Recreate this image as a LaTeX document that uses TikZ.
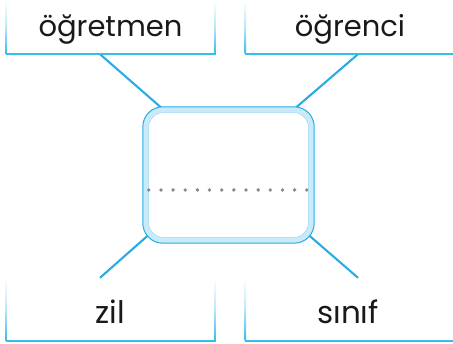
\documentclass[tikz,border=0pt]{standalone}
\usepackage{fontspec}
\setmainfont{Poppins}
\definecolor{lineblue}{HTML}{2AACE2}
\definecolor{edgeblue}{HTML}{35BDEB}
\definecolor{bandblue}{HTML}{C9EAF9}
\definecolor{dotgray}{HTML}{8A8A8A}
\tikzset{
  wordbox/.style={minimum width=209pt, inner sep=0pt, draw=none},
  connector/.style={draw=lineblue, line width=2.1pt},
  topword/.style={font=\fontsize{29}{29}\selectfont, text=black!90, anchor=base},
  botword/.style={font=\fontsize{31}{31}\selectfont, text=black!90, anchor=base},
}
\begin{document}
\begin{tikzpicture}[x=1pt,y=-1pt]
\useasboundingbox (0,0) rectangle (453,344);
% word boxes
\node[wordbox, minimum height=54pt] (tl) at (110.5,27) {};
\node[wordbox, minimum height=54pt] (tr) at (350,27) {};
\node[wordbox, minimum height=63pt] (bl) at (110.5,309.5) {};
\node[wordbox, minimum height=63pt] (br) at (350,309.5) {};
% central box
\node[minimum width=171pt, minimum height=136pt, inner sep=0pt] (c) at (228.5,175) {};
% connectors
\draw[connector] ([xshift=-10.5pt]tl.south) -- ([xshift=22pt,yshift=-4pt]c.north west);
\draw[connector] ([xshift=8pt]tr.south) -- ([xshift=-22pt,yshift=-4pt]c.north east);
\draw[connector] ([xshift=-10.5pt]bl.north) -- ([xshift=10pt,yshift=12pt]c.south west);
\draw[connector] ([xshift=8pt]br.north) -- ([xshift=-10pt,yshift=12pt]c.south east);
% box borders with faded sides
\foreach \b in {tl,tr,bl,br}{
  \shade[top color=white, bottom color=edgeblue, middle color=edgeblue!35]
    ([xshift=-0.7pt]\b.north west) rectangle ([xshift=0.7pt,yshift=0.7pt]\b.south west);
  \shade[top color=white, bottom color=edgeblue, middle color=edgeblue!35]
    ([xshift=-0.7pt]\b.north east) rectangle ([xshift=0.7pt,yshift=0.7pt]\b.south east);
  \fill[edgeblue] ([yshift=-0.7pt]\b.south west) rectangle ([xshift=0.7pt,yshift=0.7pt]\b.south east);
}
% central rounded box
\fill[bandblue, draw=lineblue, line width=1pt, rounded corners=20pt]
  (c.north west) rectangle (c.south east);
\fill[white, draw=bandblue!70!lineblue, line width=0.5pt, rounded corners=16pt]
  ([xshift=5.5pt,yshift=-5.5pt]c.north west) rectangle ([xshift=-5.5pt,yshift=5.5pt]c.south east);
\foreach \i in {0,...,13}{
  \fill[dotgray] ([xshift=6pt+\i*12.15pt]c.west |- 0,190) circle (1.9pt);
}
% words
\node[topword] (w1) at (110.5,37) {öğretmen};
\node[topword] (w2) at (350,37) {öğrenci};
\node[botword] (w3) at (110.5,324) {zil};
\node[botword] (w4) at (348,324) {sınıf};
\end{tikzpicture}
\end{document}
